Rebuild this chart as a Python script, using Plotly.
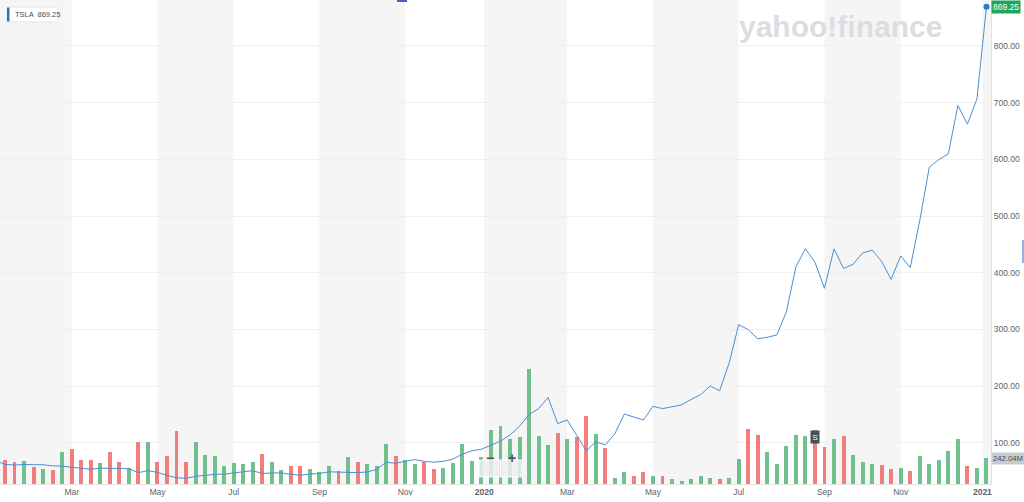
import pandas as pd
import plotly.graph_objects as go

# ---------------- data (weekly, TSLA) ----------------
first_week = "2019-01-07"
close = [69, 62, 61, 62, 61.5, 61.5, 59.5, 59, 57, 55, 53.5,
         55.5, 55, 54, 54.5, 47.5, 51, 48, 42.5, 38.5, 37.5,
         41, 43, 44.5, 45, 46.5, 49, 51, 46, 47, 47,
         44.5, 43, 45, 46, 49, 48.5, 48.1, 47.5, 48.7, 53,
         66, 64, 67.5, 70.5, 67.5, 66, 67.5, 71.5, 80, 86,
         88.8, 96, 103, 113.9, 129.5, 150, 160.5, 180.2, 134, 140.5,
         112, 86, 102, 96.5, 116, 151, 145.5, 140.4, 164.5, 160.5,
         163.6, 167.2, 176.5, 185, 200.3, 192, 241, 308.5, 299.7, 283.6,
         286.2, 290.4, 330.8, 410.2, 442.4, 418.5, 372.7, 442.2, 407.6, 415,
         434.8, 440, 420, 388.2, 429.8, 409, 492, 586, 599.5, 609.8,
         694.8, 662, 706.5, 869.25]
volume_m = [233, 221, 202, 217, 161, 137, 133, 301, 323, 221, 221,
            195, 295, 202, 146, 394, 394, 208, 258, 493, 202,
            388, 267, 261, 170, 195, 189, 202, 279, 208, 133,
            165, 165, 142, 115, 170, 121, 251, 205, 186, 168,
            375, 261, 223, 183, 205, 140, 146, 193, 370, 211,
            249, 503, 540, 416, 440, 1068, 447, 366, 478, 422,
            440, 636, 463, 338, 59, 109, 74, 112, 74, 74,
            49, 31, 49, 72, 56, 44, 53, 233, 509, 453,
            301, 183, 351, 453, 444, 500, 342, 416, 444, 270,
            205, 186, 174, 140, 146, 118, 261, 186, 223, 304,
            416, 168, 146, 242.04]
direction = ("d d d u d u d u d d "
             "d u d d u d u d d d "
             "d u u u u u u u d u "
             "u d d u u u d u d u "
             "u u d u u d d u u u "
             "u u u u u u u u u d "
             "u d d u d u u d d u "
             "d u u u u u d u u d "
             "d u u u u u d d u d "
             "u u u d d u d u u u "
             "u u d u u").split()

tick_dates = ["2019-03-04", "2019-05-06", "2019-07-01", "2019-09-02", "2019-11-04",
              "2020-01-01", "2020-03-02", "2020-05-04", "2020-07-06", "2020-09-07",
              "2020-11-02", "2021-01-01"]
tick_text = ["Mar", "May", "Jul", "Sep", "Nov", "<b>2020</b>",
             "Mar", "May", "Jul", "Sep", "Nov", "<b>2021</b>"]
price_ticks = [100, 200, 300, 400, 500, 600, 700, 800]
ticker = "TSLA"
split_week = "2020-08-31"

# ---------------- figure ----------------
weeks = pd.date_range(first_week, periods=len(close), freq="W-MON")
GREEN, RED = "#6fc08d", "#f17d7d"
bar_colors = [GREEN if d == "u" else RED for d in direction]

PW, PH = 991, 484  # plot area in px


def px(x):
    return x / PW


def py(y):
    return 1 - y / PH


fig = go.Figure()
fig.add_trace(go.Bar(x=weeks, y=volume_m, marker=dict(color=bar_colors, line=dict(width=0)),
                     width=2.9 * 86400000, yaxis="y", hoverinfo="skip"))
fig.add_trace(go.Scatter(x=weeks, y=close, mode="lines", line=dict(color="#4a8fd0", width=1),
                         yaxis="y2", hoverinfo="skip"))
fig.add_trace(go.Scatter(x=[weeks[-1]], y=[close[-1]], mode="markers",
                         marker=dict(color="#1b7cd8", size=6), yaxis="y2", hoverinfo="skip"))

# alternating two-month bands
band_edges = ["2019-01-01"] + tick_dates + ["2021-02-01"]
shapes = []
for i in range(0, len(band_edges) - 1, 2):
    shapes.append(dict(type="rect", xref="x", yref="paper", x0=band_edges[i], x1=band_edges[i + 1],
                       y0=0, y1=1, fillcolor="#f5f5f5", line=dict(width=0), layer="below"))

# legend box top-left
shapes.append(dict(type="rect", xref="paper", yref="paper", x0=px(7), x1=px(58), y0=py(22), y1=py(7),
                   fillcolor="white", line=dict(color="#e4e4e4", width=1)))
shapes.append(dict(type="rect", xref="paper", yref="paper", x0=px(7), x1=px(9.5), y0=py(21.5), y1=py(7.5),
                   fillcolor="#1b7cd8", line=dict(width=0)))
# zoom control
shapes.append(dict(type="rect", xref="paper", yref="paper", x0=px(479), x1=px(522), y0=py(477), y1=py(460),
                   fillcolor="rgba(238,239,241,0.85)", line=dict(color="rgba(255,255,255,0.9)", width=1)))
shapes.append(dict(type="line", xref="paper", yref="paper", x0=px(500.5), x1=px(500.5), y0=py(476), y1=py(461),
                   line=dict(color="rgba(255,255,255,0.95)", width=1)))
# small marks at edges
shapes.append(dict(type="rect", xref="paper", yref="paper", x0=px(397), x1=px(407), y0=py(2), y1=py(0),
                   fillcolor="#4a5bd0", line=dict(width=0)))
shapes.append(dict(type="line", xref="paper", yref="paper", x0=px(1023), x1=px(1023), y0=py(263), y1=py(240),
                   line=dict(color="#6a9fd4", width=1.5)))

annotations = [
    dict(text="yahoo!finance", xref="paper", yref="paper", x=px(840), y=py(26), xanchor="center",
         yanchor="middle", showarrow=False,
         font=dict(family="Liberation Sans", size=30, color="#dcdde2", weight="bold")),
    dict(text=f"{ticker}  {close[-1]:.2f}", xref="paper", yref="paper", x=px(12.5), y=py(14.5),
         xanchor="left", yanchor="middle", showarrow=False,
         font=dict(family="Liberation Sans", size=7.5, color="#464e56")),
    dict(text=f"{close[-1]:.2f}", xref="paper", yref="y2", x=1, y=close[-1], xanchor="left",
         yanchor="middle", showarrow=False, bgcolor="#1fa65c", borderpad=1,
         font=dict(family="Liberation Sans", size=8.5, color="white")),
    dict(text=f"{volume_m[-1]:.2f}M", xref="paper", yref="y", x=1, y=volume_m[-1], xanchor="left",
         yanchor="middle", showarrow=False, bgcolor="#c8cbd0", borderpad=1,
         font=dict(family="Liberation Sans", size=7.7, color="#464e56")),
    dict(text="S", xref="x", yref="paper", x=split_week, y=py(444), showarrow=False,
         bgcolor="#4b5056", borderpad=1.5, font=dict(family="Liberation Sans", size=8, color="white")),
    dict(text="<b>−</b>", xref="paper", yref="paper", x=px(489.5), y=py(468), showarrow=False,
         font=dict(family="Liberation Sans", size=14, color="#50565c")),
    dict(text="<b>+</b>", xref="paper", yref="paper", x=px(512), y=py(468), showarrow=False,
         font=dict(family="Liberation Sans", size=14, color="#50565c")),
]

fig.update_layout(
    width=1024, height=502, autosize=False,
    margin=dict(l=0, r=33, t=0, b=18),
    paper_bgcolor="white", plot_bgcolor="white",
    showlegend=False, bargap=0,
    font=dict(family="Liberation Sans", size=8.5, color="#5b636a"),
    xaxis=dict(type="date", range=["2019-01-10 08:00", "2021-01-07 08:00"],
               tickvals=tick_dates, ticktext=tick_text, ticks="", showgrid=False,
               showline=True, linecolor="#e3e3e3", linewidth=1, zeroline=False,
               tickfont=dict(size=8.5, color="#5b636a")),
    yaxis=dict(range=[0, 4505.6], visible=False, showgrid=False, fixedrange=True),
    yaxis2=dict(range=[27.5, 881], overlaying="y", side="right", tickvals=price_ticks,
                tickformat=".2f", showgrid=True, gridcolor="#efefef", gridwidth=1,
                showline=True, linecolor="#e0e0e0", linewidth=1, ticks="", zeroline=False,
                tickfont=dict(size=8.5, color="#5b636a")),
    shapes=shapes, annotations=annotations,
)

fig.write_html("out.html", config={"displayModeBar": False},
               post_script="document.body.style.margin='0px';")
